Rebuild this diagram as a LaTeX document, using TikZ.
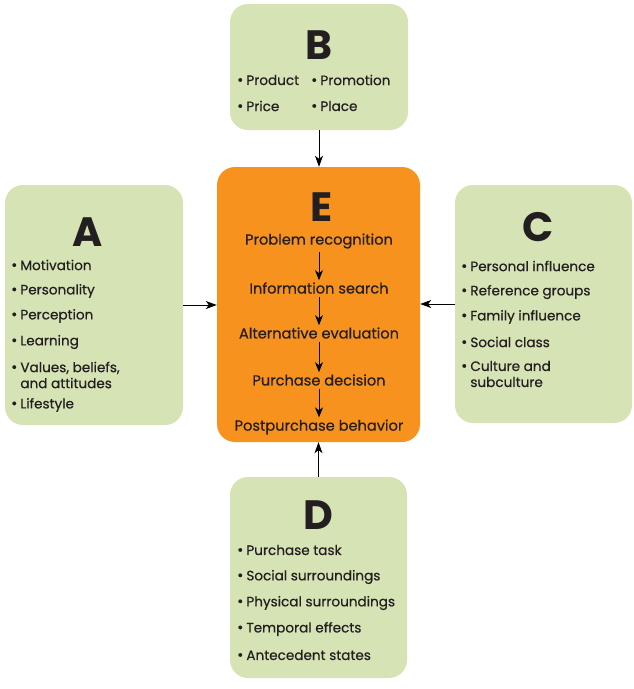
\documentclass[tikz,border=0pt]{standalone}
\usepackage{fontspec}
\setmainfont{Poppins}
\newfontfamily\medfont{Poppins}[FakeBold=0.5]
\usetikzlibrary{arrows.meta}
\definecolor{boxgreen}{RGB}{213,227,181}
\definecolor{boxorange}{RGB}{247,146,30}
\definecolor{txt}{RGB}{35,31,32}
\newcommand{\bul}{{\fontsize{15}{15}\selectfont•}\hspace{3pt}}
\begin{document}
\begin{tikzpicture}[x=1pt,y=-1pt,
  greenbox/.style={fill=boxgreen, draw=none, rounded corners=18pt, inner sep=0pt},
  orangebox/.style={fill=boxorange, draw=none, rounded corners=18pt, inner sep=0pt},
  letter/.style={font=\bfseries\fontsize{41}{41}\selectfont, text=txt, inner sep=0pt},
  item/.style={anchor=west, font=\medfont\fontsize{13.6}{16}\selectfont, text=txt, inner sep=0pt, align=left},
  stepnode/.style={font=\medfont\fontsize{14.6}{16}\selectfont, text=txt, inner sep=1pt},
  arr/.style={-{Stealth[length=11pt,width=8pt,inset=3pt]}, line width=1pt, black},
  smallarr/.style={-{Stealth[length=10pt,width=8pt,inset=3pt]}, line width=1pt, black, shorten <=2pt, shorten >=1pt}
]
\useasboundingbox (0,0) rectangle (634,689);
% boxes
\node[greenbox, minimum width=178pt, minimum height=126pt] (B) at (319,67) {};
\node[greenbox, minimum width=178pt, minimum height=240pt] (A) at (94,305) {};
\node[greenbox, minimum width=177pt, minimum height=238pt] (C) at (543.5,304) {};
\node[greenbox, minimum width=177pt, minimum height=201pt] (D) at (318.5,577.5) {};
\node[orangebox, minimum width=203pt, minimum height=275pt] (E) at (318.5,304.5) {};
% letters
\node[letter] (Bl) at (319,45) {B};
\node[letter] (Al) at (88,232) {A};
\node[letter] (Cl) at (538,227) {C};
\node[letter] (Dl) at (318,515) {D};
\node[letter] (El) at (322,207) {E};
% B items
\node[item] (b1) at (237,80) {\bul Product};
\node[item] (b2) at (311,80) {\bul Promotion};
\node[item] (b3) at (237,106) {\bul Price};
\node[item] (b4) at (311,106) {\bul Place};
% A items
\node[item] (a1) at (11,265) {\bul Motivation};
\node[item] (a2) at (11,291) {\bul Personality};
\node[item] (a3) at (11,316) {\bul Perception};
\node[item] (a4) at (11,342) {\bul Learning};
\node[item] (a5) at (11,375) {\bul Values, beliefs,\\\phantom{\bul}and attitudes};
\node[item] (a6) at (11,405) {\bul Lifestyle};
% C items
\node[item] (c1) at (461,266) {\bul Personal influence};
\node[item] (c2) at (461,292) {\bul Reference groups};
\node[item] (c3) at (461,317) {\bul Family influence};
\node[item] (c4) at (461,342) {\bul Social class};
\node[item] (c5) at (461,374) {\bul Culture and\\\phantom{\bul}subculture};
% D items
\node[item] (d1) at (237,550) {\bul Purchase task};
\node[item] (d2) at (237,577) {\bul Social surroundings};
\node[item] (d3) at (237,603) {\bul Physical surroundings};
\node[item] (d4) at (237,629) {\bul Temporal effects};
\node[item] (d5) at (237,655) {\bul Antecedent states};
% E steps
\node[stepnode] (e1) at (319,241) {Problem recognition};
\node[stepnode] (e2) at (319,288) {Information search};
\node[stepnode] (e3) at (319,333) {Alternative evaluation};
\node[stepnode] (e4) at (319,380) {Purchase decision};
\node[stepnode] (e5) at (319,427) {Postpurchase behavior};
\draw[smallarr] (e1.south) -- (e2.north);
\draw[smallarr] (e2.south) -- (e3.north);
\draw[smallarr] (e3.south) -- (e4.north);
\draw[smallarr] (e4.south) -- (e5.north);
% connectors
\draw[arr] (B.south) -- (B.south |- E.north);
\draw[arr] (A.east) -- (A.east -| E.west);
\draw[arr] (C.west) -- (C.west -| E.east);
\draw[arr] (D.north) -- (D.north |- E.south);
\end{tikzpicture}
\end{document}
